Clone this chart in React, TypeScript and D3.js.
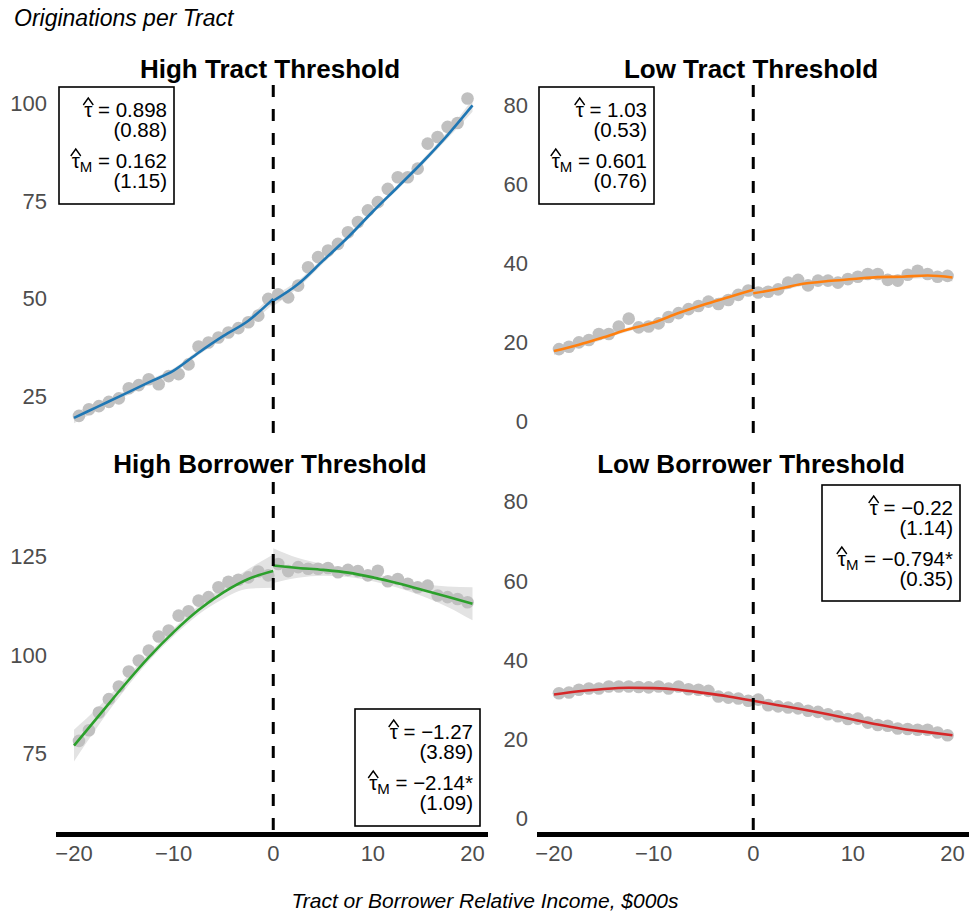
import React, { useEffect, useRef } from "react";
import * as d3 from "d3";

// ---------- data ----------
const binX = [
  -19.5, -18.5, -17.5, -16.5, -15.5, -14.5, -13.5, -12.5, -11.5, -10.5,
  -9.5, -8.5, -7.5, -6.5, -5.5, -4.5, -3.5, -2.5, -1.5, -0.5,
  0.5, 1.5, 2.5, 3.5, 4.5, 5.5, 6.5, 7.5, 8.5, 9.5,
  10.5, 11.5, 12.5, 13.5, 14.5, 15.5, 16.5, 17.5, 18.5, 19.5,
];
const fitXLeft = [-20, -17.5, -15, -12.5, -10, -7.5, -5, -2.5, 0];
const fitXRight = [0, 2.5, 5, 7.5, 10, 12.5, 15, 17.5, 20];
const xTicks = [-20, -10, 0, 10, 20];

const highTractPts = [
  19.9, 21.6, 22.4, 23.5, 24.4, 27.0, 27.8, 29.3, 28.0, 30.1,
  30.6, 33.1, 37.7, 38.7, 40.0, 41.3, 42.4, 43.9, 45.6, 49.9,
  51.1, 50.3, 53.3, 58.0, 60.6, 62.3, 64.0, 67.0, 69.6, 72.6,
  74.7, 78.1, 81.1, 81.1, 83.3, 89.7, 91.4, 94.0, 95.0, 101.3,
];
const highTractFitL = [19.4, 22.4, 25.4, 28.5, 31.5, 36.1, 40.4, 44.3, 49.9];
const highTractFitR = [49.4, 53.7, 59.7, 65.7, 72.3, 78.6, 85.0, 91.9, 99.5];
const highTractSeL = [1.4, 0.9, 0.7, 0.6, 0.6, 0.6, 0.7, 0.9, 1.4];
const highTractSeR = [1.4, 0.9, 0.7, 0.6, 0.6, 0.6, 0.7, 0.9, 1.6];

const lowTractPts = [
  18.3, 18.9, 20.0, 20.6, 22.1, 22.1, 24.0, 26.0, 23.8, 24.0,
  24.8, 26.4, 27.4, 28.4, 29.2, 30.3, 29.7, 30.7, 32.0, 33.1,
  32.6, 32.8, 33.4, 35.1, 35.8, 34.4, 35.6, 35.6, 35.1, 36.0,
  36.6, 37.3, 37.3, 35.8, 35.6, 37.1, 38.1, 37.3, 36.6, 36.8,
];
const lowTractFitL = [17.8, 19.4, 21.3, 23.3, 25.0, 27.4, 29.5, 31.4, 33.3];
const lowTractFitR = [32.4, 33.5, 34.8, 35.5, 36.0, 36.5, 36.6, 36.9, 36.4];
const lowTractSeL = [1.0, 0.7, 0.5, 0.5, 0.5, 0.5, 0.5, 0.7, 1.0];
const lowTractSeR = [1.0, 0.7, 0.5, 0.5, 0.5, 0.5, 0.5, 0.7, 1.0];

const highBorrowerPts = [
  78.2, 80.9, 85.4, 88.8, 92.0, 95.8, 98.6, 101.1, 104.7, 106.2,
  110.0, 111.1, 113.8, 114.7, 117.2, 118.6, 119.1, 119.7, 121.2, 120.2,
  123.1, 121.3, 122.3, 121.9, 121.9, 122.1, 121.0, 121.6, 121.3, 120.2,
  121.4, 118.7, 119.3, 118.1, 117.2, 117.6, 115.1, 114.7, 114.2, 113.4,
];
const highBorrowerFitL = [77.0, 84.6, 92.2, 99.4, 105.8, 111.4, 115.9, 119.3, 121.3];
const highBorrowerFitR = [122.7, 122.1, 121.6, 120.9, 119.7, 118.2, 116.5, 114.8, 113.0];
const highBorrowerSeL = [4.0, 2.3, 1.4, 1.0, 1.0, 1.1, 1.6, 2.5, 4.2];
const highBorrowerSeR = [4.4, 2.5, 1.5, 1.1, 1.0, 1.1, 1.6, 2.6, 4.2];

const lowBorrowerPts = [
  31.6, 31.8, 32.5, 32.8, 32.8, 33.3, 33.3, 33.3, 33.2, 33.1,
  33.3, 32.8, 33.3, 32.6, 32.5, 32.2, 30.8, 30.5, 30.3, 29.7,
  30.0, 28.6, 28.3, 28.0, 27.8, 27.2, 26.9, 26.3, 25.8, 25.1,
  25.2, 24.2, 23.6, 23.4, 22.7, 22.6, 22.4, 22.4, 21.7, 21.0,
];
const lowBorrowerFitL = [31.3, 32.1, 32.7, 33.0, 32.9, 32.5, 31.7, 30.8, 29.7];
const lowBorrowerFitR = [29.7, 28.6, 27.5, 26.3, 25.0, 23.7, 22.6, 21.8, 21.0];
const lowBorrowerSeL = [0.8, 0.5, 0.4, 0.4, 0.4, 0.4, 0.4, 0.5, 0.8];
const lowBorrowerSeR = [0.8, 0.5, 0.4, 0.4, 0.4, 0.4, 0.4, 0.5, 0.8];

const panelTitles = [
  "High Tract Threshold",
  "Low Tract Threshold",
  "High Borrower Threshold",
  "Low Borrower Threshold",
];
const panelColors = ["#1f77b4", "#ff7f0e", "#2ca02c", "#d62728"];
const yTicksList = [
  [25, 50, 75, 100],
  [0, 20, 40, 60, 80],
  [75, 100, 125],
  [0, 20, 40, 60, 80],
];
const tauValues = ["0.898", "1.03", "\u22121.27", "\u22120.22"];
const tauSE = ["(0.88)", "(0.53)", "(3.89)", "(1.14)"];
const tauMValues = ["0.162", "0.601", "\u22122.14*", "\u22120.794*"];
const tauMSE = ["(1.15)", "(0.76)", "(1.09)", "(0.35)"];

const yAxisTitle = "Originations per Tract";
const xAxisTitle = "Tract or Borrower Relative Income, $000s";

// ---------- layout ----------
const W = 969;
const H = 917;
const FONT = "'Liberation Sans', Arial, Helvetica, sans-serif";

type Layout = {
  x0: number; x1: number; y0: number; y1: number;
  xr: [number, number];
  yd: [number, number]; yr: [number, number];
  titleY: number;
  box: [number, number, number, number]; // left, top, right, bottom
  bottomRow: boolean;
};

const layouts: Layout[] = [
  { x0: 56, x1: 488, y0: 85, y1: 438, xr: [74, 472.5], yd: [25, 100], yr: [396, 103.5], titleY: 78, box: [59, 87, 174, 204], bottomRow: false },
  { x0: 537, x1: 969, y0: 85, y1: 438, xr: [554, 952.5], yd: [0, 80], yr: [421.5, 105], titleY: 78, box: [539, 87, 654, 204], bottomRow: false },
  { x0: 56, x1: 488, y0: 482, y1: 833, xr: [74, 472.5], yd: [75, 125], yr: [753.5, 556.5], titleY: 473, box: [355, 709, 480, 826], bottomRow: true },
  { x0: 537, x1: 969, y0: 482, y1: 833, xr: [554, 952.5], yd: [0, 80], yr: [818.5, 501.5], titleY: 473, box: [822, 485, 960, 601], bottomRow: true },
];

const panelData = [
  { pts: highTractPts, fitL: highTractFitL, fitR: highTractFitR, seL: highTractSeL, seR: highTractSeR },
  { pts: lowTractPts, fitL: lowTractFitL, fitR: lowTractFitR, seL: lowTractSeL, seR: lowTractSeR },
  { pts: highBorrowerPts, fitL: highBorrowerFitL, fitR: highBorrowerFitR, seL: highBorrowerSeL, seR: highBorrowerSeR },
  { pts: lowBorrowerPts, fitL: lowBorrowerFitL, fitR: lowBorrowerFitR, seL: lowBorrowerSeL, seR: lowBorrowerSeR },
];

export default function App() {
  const ref = useRef<SVGSVGElement | null>(null);

  useEffect(() => {
    const svg = d3.select(ref.current!);
    svg.selectAll("*").remove();
    svg.append("rect").attr("width", W).attr("height", H).attr("fill", "#fff");

    layouts.forEach((L, i) => {
      const d = panelData[i];
      const g = svg.append("g");
      const x = d3.scaleLinear().domain([-20, 20]).range(L.xr);
      const y = d3.scaleLinear().domain(L.yd).range(L.yr);

      // ribbons
      const drawRibbon = (xs: number[], fit: number[], se: number[]) => {
        const a = d3
          .area<number>()
          .x((_, k) => x(xs[k]))
          .y0((_, k) => y(fit[k] - se[k]))
          .y1((_, k) => y(fit[k] + se[k]))
          .curve(d3.curveMonotoneX);
        g.append("path").attr("d", a(fit) as string).attr("fill", "#e3e3e3").attr("stroke", "none");
      };
      drawRibbon(fitXLeft, d.fitL, d.seL);
      drawRibbon(fitXRight, d.fitR, d.seR);

      // points
      g.selectAll("circle.pt")
        .data(d.pts)
        .enter()
        .append("circle")
        .attr("class", "pt")
        .attr("cx", (_, k) => x(binX[k]))
        .attr("cy", (v) => y(v))
        .attr("r", 6.3)
        .attr("fill", "#c0c0c0");

      // fit lines
      const drawLine = (xs: number[], fit: number[]) => {
        const ln = d3
          .line<number>()
          .x((_, k) => x(xs[k]))
          .y((v) => y(v))
          .curve(d3.curveMonotoneX);
        g.append("path")
          .attr("d", ln(fit) as string)
          .attr("fill", "none")
          .attr("stroke", panelColors[i])
          .attr("stroke-width", 2.6);
      };
      drawLine(fitXLeft, d.fitL);
      drawLine(fitXRight, d.fitR);

      // dashed cutoff line
      g.append("line")
        .attr("x1", x(0))
        .attr("x2", x(0))
        .attr("y1", L.y0)
        .attr("y2", L.y1)
        .attr("stroke", "#000")
        .attr("stroke-width", 3)
        .attr("stroke-dasharray", "12 12");

      // y tick labels
      yTicksList[i].forEach((t) => {
        g.append("text")
          .attr("x", L.x0 - 9)
          .attr("y", y(t))
          .attr("dy", "0.36em")
          .attr("text-anchor", "end")
          .attr("fill", "#4d4d4d")
          .style("font-family", FONT)
          .style("font-size", "22px")
          .text(String(t));
      });

      // x axis (bottom row only)
      if (L.bottomRow) {
        g.append("line")
          .attr("x1", L.x0)
          .attr("x2", L.x1)
          .attr("y1", 834.5)
          .attr("y2", 834.5)
          .attr("stroke", "#000")
          .attr("stroke-width", 5);
        xTicks.forEach((t) => {
          g.append("text")
            .attr("x", x(t))
            .attr("y", 861)
            .attr("text-anchor", "middle")
            .attr("fill", "#4d4d4d")
            .style("font-family", FONT)
            .style("font-size", "22px")
            .text(t < 0 ? "\u2212" + Math.abs(t) : String(t));
        });
      }

      // title
      g.append("text")
        .attr("x", (L.x0 + L.x1) / 2 - 2)
        .attr("y", L.titleY)
        .attr("text-anchor", "middle")
        .attr("fill", "#000")
        .style("font-family", FONT)
        .style("font-size", "26px")
        .style("font-weight", "bold")
        .text(panelTitles[i]);

      // annotation box: one text block with four lines
      const [bl, bt, br, bb] = L.box;
      g.append("rect")
        .attr("x", bl)
        .attr("y", bt)
        .attr("width", br - bl)
        .attr("height", bb - bt)
        .attr("fill", "#fff")
        .attr("stroke", "#000")
        .attr("stroke-width", 1.6);
      const xr = br - 7;
      const txt = g
        .append("text")
        .attr("text-anchor", "end")
        .attr("fill", "#000")
        .style("font-family", FONT)
        .style("font-size", "20.5px")
        .style("white-space", "pre");

      const y1 = bt + 30, y2 = bt + 50, y3 = bt + 81, y4 = bt + 101;
      const tau1 = txt.append("tspan").attr("x", xr).attr("y", y1).text("\u03c4");
      txt.append("tspan").text(" = " + tauValues[i]);
      txt.append("tspan").attr("x", xr).attr("y", y2).text(tauSE[i]);
      const tau2 = txt.append("tspan").attr("x", xr).attr("y", y3).text("\u03c4");
      txt.append("tspan").attr("dy", 4).style("font-size", "15px").text("M");
      txt.append("tspan").attr("dy", -4).text(" = " + tauMValues[i]);
      txt.append("tspan").attr("x", xr).attr("y", y4).text(tauMSE[i]);

      const hat = (span: any, yb: number, fallback: number) => {
        let cx = fallback;
        try {
          const bb2 = span.node().getBBox();
          cx = bb2.x + bb2.width / 2;
        } catch (e) {
          /* ignore */
        }
        g.append("path")
          .attr("d", `M${cx - 5},${yb - 12} L${cx},${yb - 19} L${cx + 5},${yb - 12}`)
          .attr("fill", "none")
          .attr("stroke", "#000")
          .attr("stroke-width", 1.4);
      };
      hat(tau1, y1, xr - 80);
      hat(tau2, y3, xr - 95);
    });

    // axis titles
    svg.append("text")
      .attr("x", 14)
      .attr("y", 26)
      .attr("fill", "#000")
      .style("font-family", FONT)
      .style("font-size", "23px")
      .style("font-style", "italic")
      .text(yAxisTitle);
    svg.append("text")
      .attr("x", 485)
      .attr("y", 908)
      .attr("text-anchor", "middle")
      .attr("fill", "#000")
      .style("font-family", FONT)
      .style("font-size", "21px")
      .style("font-style", "italic")
      .text(xAxisTitle);
  }, []);

  return (
    <svg
      ref={ref}
      width={W}
      height={H}
      style={{ position: "absolute", left: 0, top: 0, display: "block" }}
    />
  );
}
